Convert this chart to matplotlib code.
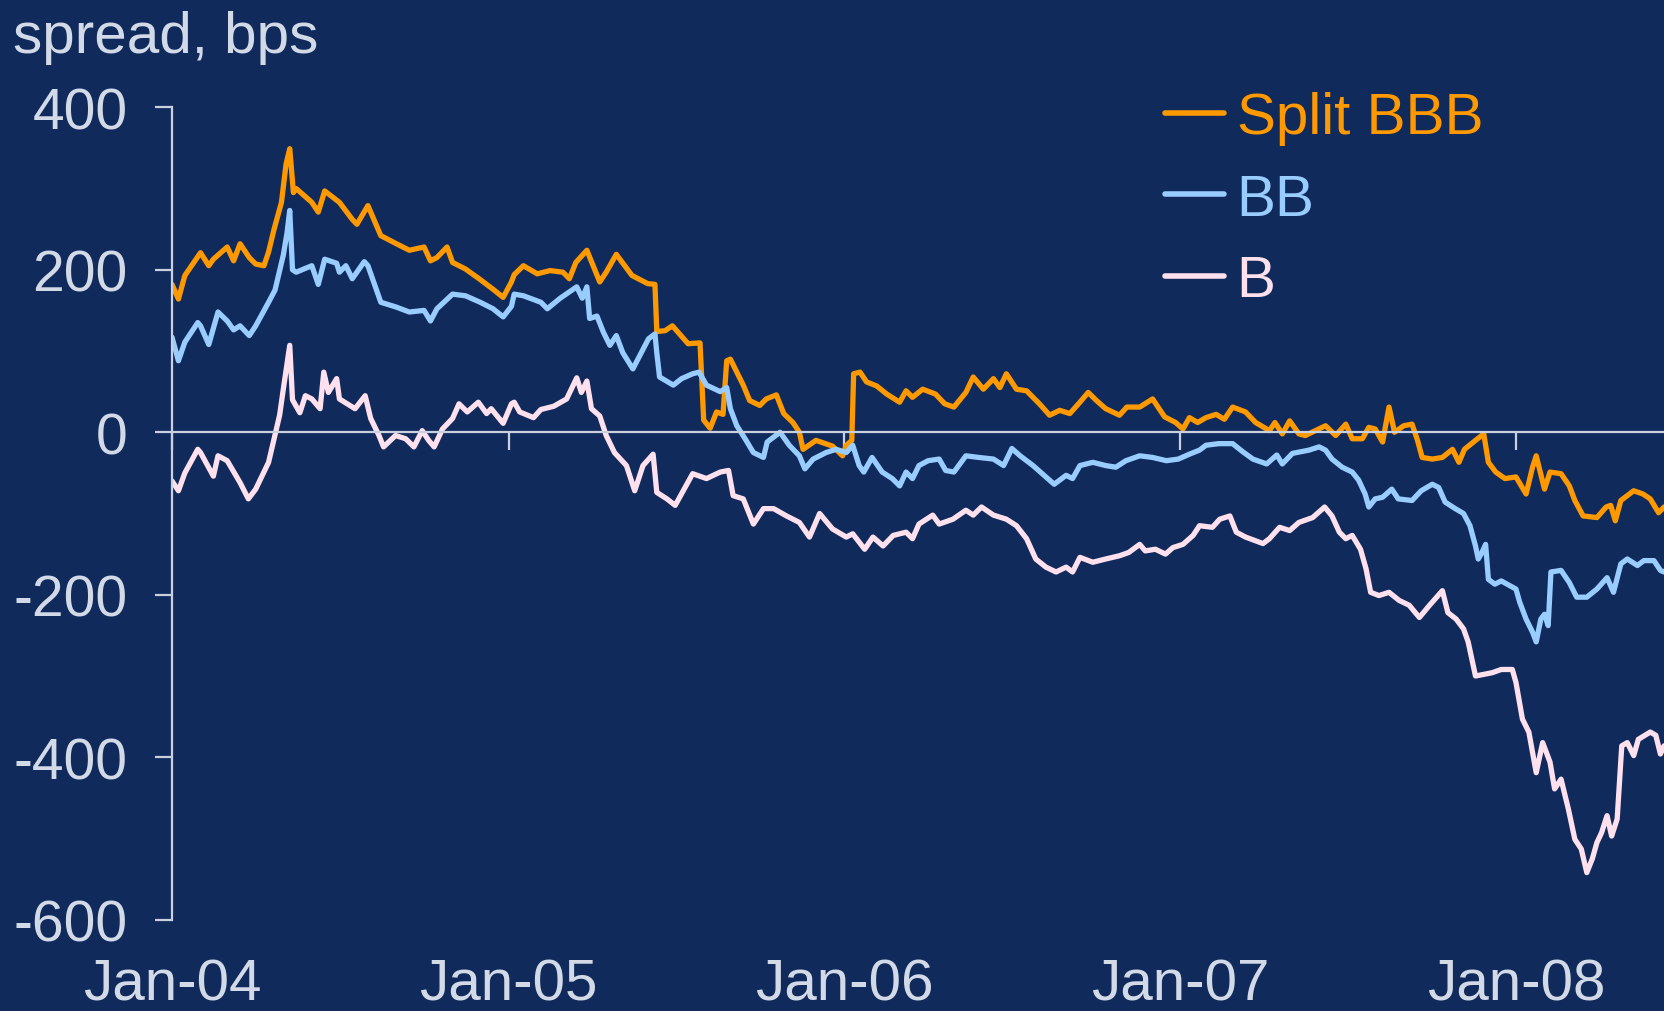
import matplotlib
matplotlib.use("Agg")
import matplotlib.pyplot as plt
import pandas as pd

# Split BBB spread vs. reference, bps
bbb_dates = [
    "2004-01-01", "2004-01-08", "2004-01-15", "2004-02-01", "2004-02-10", "2004-02-15", "2004-03-01", "2004-03-08",
    "2004-03-15", "2004-03-25", "2004-04-01", "2004-04-10", "2004-04-15", "2004-04-21", "2004-04-29", "2004-05-04",
    "2004-05-08", "2004-05-12", "2004-05-15", "2004-06-01", "2004-06-08", "2004-06-15", "2004-07-01", "2004-07-15",
    "2004-07-20", "2004-08-01", "2004-08-15", "2004-09-01", "2004-09-15", "2004-10-01", "2004-10-08", "2004-10-15",
    "2004-10-26", "2004-11-01", "2004-11-15", "2004-12-01", "2004-12-15", "2004-12-26", "2005-01-04", "2005-01-07",
    "2005-01-17", "2005-02-01", "2005-02-15", "2005-03-01", "2005-03-08", "2005-03-15", "2005-03-27", "2005-04-10",
    "2005-04-17", "2005-04-28", "2005-05-15", "2005-06-01", "2005-06-09", "2005-06-11", "2005-06-20", "2005-06-28",
    "2005-07-15", "2005-07-28", "2005-08-01", "2005-08-08", "2005-08-15", "2005-08-22", "2005-08-26", "2005-08-30",
    "2005-09-13", "2005-09-20", "2005-10-01", "2005-10-08", "2005-10-19", "2005-10-27", "2005-11-06", "2005-11-13",
    "2005-11-17", "2005-12-01", "2005-12-19", "2005-12-30", "2006-01-03", "2006-01-09", "2006-01-11", "2006-01-18",
    "2006-01-25", "2006-02-05", "2006-02-16", "2006-03-02", "2006-03-09", "2006-03-16", "2006-03-27", "2006-04-10",
    "2006-04-20", "2006-04-30", "2006-05-13", "2006-05-21", "2006-06-01", "2006-06-12", "2006-06-19", "2006-06-26",
    "2006-07-07", "2006-07-18", "2006-08-01", "2006-08-12", "2006-08-23", "2006-09-03", "2006-09-14", "2006-09-23",
    "2006-10-02", "2006-10-12", "2006-10-27", "2006-11-04", "2006-11-18", "2006-12-02", "2006-12-15", "2006-12-27",
    "2007-01-04", "2007-01-11", "2007-01-20", "2007-01-29", "2007-02-09", "2007-02-18", "2007-02-27", "2007-03-13",
    "2007-03-24", "2007-04-08", "2007-04-14", "2007-04-22", "2007-04-30", "2007-05-10", "2007-05-17", "2007-05-28",
    "2007-06-08", "2007-06-19", "2007-06-30", "2007-07-07", "2007-07-18", "2007-07-25", "2007-08-01", "2007-08-09",
    "2007-08-16", "2007-08-22", "2007-09-01", "2007-09-10", "2007-09-16", "2007-09-21", "2007-10-02", "2007-10-13",
    "2007-10-24", "2007-10-31", "2007-11-06", "2007-11-18", "2007-11-27", "2007-12-02", "2007-12-10", "2007-12-20",
    "2008-01-01", "2008-01-12", "2008-01-19", "2008-01-23", "2008-02-01", "2008-02-07", "2008-02-19", "2008-02-28",
    "2008-03-05", "2008-03-14", "2008-03-29", "2008-04-08", "2008-04-13", "2008-04-18", "2008-04-24", "2008-05-08",
    "2008-05-18", "2008-05-26", "2008-06-04", "2008-06-10",
]
bbb_vals = [
    182, 164, 193, 221, 205, 213, 228, 211,
    232, 215, 207, 205, 222, 250, 283, 330,
    349, 295, 300, 283, 271, 297, 283, 262,
    256, 279, 242, 232, 224, 228, 211, 215,
    228, 209, 201, 188, 176, 166, 185, 194,
    205, 195, 199, 197, 189, 209, 224, 185,
    197, 219, 193, 183, 182, 124, 125, 131,
    109, 110, 15, 5, 25, 22, 88, 90,
    58, 39, 33, 41, 46, 23, 12, 0,
    -21, -10, -17, -29, -16, -10, 72, 74,
    62, 57, 47, 37, 51, 43, 53, 47,
    35, 31, 49, 68, 53, 66, 55, 72,
    53, 51, 35, 21, 27, 23, 37, 49,
    39, 29, 21, 31, 31, 41, 19, 12,
    4, 18, 12, 18, 22, 16, 31, 25,
    12, 2, 12, -2, 14, -2, -4, 2,
    8, -4, 10, -8, -8, 6, 4, -12,
    31, 0, 8, 10, -10, -31, -33, -31,
    -21, -37, -21, -10, -2, -37, -49, -57,
    -55, -76, -43, -29, -70, -49, -51, -66,
    -84, -103, -105, -92, -90, -109, -84, -72,
    -76, -82, -99, -92,
]

# BB spread
bb_dates = [
    "2004-01-01", "2004-01-08", "2004-01-15", "2004-01-29", "2004-02-01", "2004-02-10", "2004-02-20", "2004-03-01",
    "2004-03-08", "2004-03-15", "2004-03-25", "2004-04-01", "2004-04-15", "2004-04-22", "2004-05-01", "2004-05-05",
    "2004-05-08", "2004-05-11", "2004-05-15", "2004-06-01", "2004-06-08", "2004-06-15", "2004-06-28", "2004-07-01",
    "2004-07-08", "2004-07-15", "2004-07-28", "2004-08-01", "2004-08-15", "2004-09-01", "2004-09-15", "2004-10-01",
    "2004-10-08", "2004-10-15", "2004-11-01", "2004-11-15", "2004-12-01", "2004-12-15", "2004-12-26", "2005-01-04",
    "2005-01-07", "2005-01-17", "2005-02-05", "2005-02-12", "2005-02-26", "2005-03-16", "2005-03-22", "2005-03-27",
    "2005-03-30", "2005-04-07", "2005-04-14", "2005-04-21", "2005-04-28", "2005-05-05", "2005-05-16", "2005-06-02",
    "2005-06-09", "2005-06-11", "2005-06-14", "2005-06-29", "2005-07-08", "2005-07-20", "2005-07-27", "2005-08-04",
    "2005-08-19", "2005-08-26", "2005-08-30", "2005-09-06", "2005-09-15", "2005-09-24", "2005-10-05", "2005-10-09",
    "2005-10-23", "2005-11-02", "2005-11-13", "2005-11-19", "2005-11-28", "2005-12-12", "2005-12-23", "2006-01-03",
    "2006-01-10", "2006-01-17", "2006-01-22", "2006-01-31", "2006-02-11", "2006-02-22", "2006-03-02", "2006-03-09",
    "2006-03-16", "2006-03-23", "2006-04-02", "2006-04-14", "2006-04-21", "2006-04-30", "2006-05-13", "2006-05-27",
    "2006-06-12", "2006-06-23", "2006-07-02", "2006-07-11", "2006-07-25", "2006-08-08", "2006-08-17", "2006-08-30",
    "2006-09-06", "2006-09-14", "2006-09-28", "2006-10-12", "2006-10-23", "2006-11-03", "2006-11-18", "2006-12-02",
    "2006-12-17", "2006-12-30", "2007-01-11", "2007-01-22", "2007-01-29", "2007-02-12", "2007-02-27", "2007-03-10",
    "2007-03-21", "2007-04-05", "2007-04-16", "2007-04-22", "2007-05-03", "2007-05-21", "2007-06-01", "2007-06-08",
    "2007-06-15", "2007-06-26", "2007-07-07", "2007-07-14", "2007-07-21", "2007-07-25", "2007-08-01", "2007-08-09",
    "2007-08-19", "2007-08-26", "2007-09-10", "2007-09-20", "2007-10-02", "2007-10-09", "2007-10-16", "2007-10-27",
    "2007-11-05", "2007-11-12", "2007-11-18", "2007-11-21", "2007-11-25", "2007-11-29", "2007-12-02", "2007-12-09",
    "2007-12-16", "2008-01-01", "2008-01-05", "2008-01-12", "2008-01-19", "2008-01-23", "2008-01-28", "2008-02-01",
    "2008-02-05", "2008-02-08", "2008-02-19", "2008-02-28", "2008-03-07", "2008-03-18", "2008-03-29", "2008-04-09",
    "2008-04-16", "2008-04-24", "2008-05-01", "2008-05-12", "2008-05-19", "2008-05-30", "2008-06-06", "2008-06-10",
]
bb_vals = [
    117, 88, 111, 135, 131, 108, 148, 137,
    126, 131, 119, 131, 160, 175, 218, 245,
    273, 200, 197, 205, 182, 213, 208, 197,
    205, 189, 210, 205, 160, 154, 148, 150,
    137, 152, 170, 168, 160, 152, 142, 155,
    170, 168, 160, 152, 165, 179, 165, 179,
    140, 143, 123, 107, 119, 98, 78, 115,
    121, 98, 68, 58, 66, 72, 74, 58,
    50, 55, 29, 8, -8, -25, -31, -12,
    0, -16, -29, -45, -33, -25, -21, -25,
    -16, -41, -49, -31, -49, -57, -66, -49,
    -57, -41, -35, -33, -47, -49, -29, -31,
    -33, -41, -20, -29, -41, -55, -64, -53,
    -57, -41, -37, -41, -43, -35, -29, -31,
    -35, -33, -27, -22, -16, -14, -14, -24,
    -33, -39, -28, -39, -26, -22, -18, -22,
    -33, -43, -49, -59, -76, -92, -82, -80,
    -70, -82, -84, -72, -64, -68, -86, -94,
    -100, -115, -140, -156, -148, -138, -181, -187,
    -183, -193, -209, -230, -246, -258, -230, -224,
    -238, -172, -170, -185, -203, -203, -193, -179,
    -197, -162, -156, -164, -158, -158, -170, -172,
]

# B spread
b_dates = [
    "2004-01-01", "2004-01-08", "2004-01-15", "2004-01-29", "2004-02-01", "2004-02-15", "2004-02-20", "2004-03-01",
    "2004-03-15", "2004-03-24", "2004-04-01", "2004-04-15", "2004-04-27", "2004-05-01", "2004-05-08", "2004-05-11",
    "2004-05-19", "2004-05-25", "2004-06-01", "2004-06-10", "2004-06-14", "2004-06-19", "2004-06-28", "2004-07-01",
    "2004-07-18", "2004-07-29", "2004-08-04", "2004-08-13", "2004-08-18", "2004-08-31", "2004-09-11", "2004-09-20",
    "2004-09-29", "2004-10-06", "2004-10-12", "2004-10-21", "2004-11-01", "2004-11-08", "2004-11-17", "2004-11-29",
    "2004-12-08", "2004-12-13", "2004-12-26", "2005-01-04", "2005-01-07", "2005-01-13", "2005-01-28", "2005-02-05",
    "2005-02-19", "2005-03-05", "2005-03-16", "2005-03-21", "2005-03-27", "2005-04-01", "2005-04-10", "2005-04-17",
    "2005-04-26", "2005-05-09", "2005-05-18", "2005-05-27", "2005-06-07", "2005-06-11", "2005-06-22", "2005-07-01",
    "2005-07-20", "2005-08-04", "2005-08-19", "2005-08-28", "2005-09-02", "2005-09-13", "2005-09-24", "2005-10-05",
    "2005-10-16", "2005-10-30", "2005-11-13", "2005-11-24", "2005-12-05", "2005-12-19", "2006-01-03", "2006-01-10",
    "2006-01-23", "2006-02-01", "2006-02-12", "2006-02-23", "2006-03-09", "2006-03-16", "2006-03-23", "2006-04-07",
    "2006-04-14", "2006-04-29", "2006-05-13", "2006-05-21", "2006-05-30", "2006-06-12", "2006-06-26", "2006-07-07",
    "2006-07-18", "2006-07-28", "2006-08-08", "2006-08-19", "2006-08-30", "2006-09-06", "2006-09-14", "2006-09-28",
    "2006-10-12", "2006-10-27", "2006-11-06", "2006-11-18", "2006-11-24", "2006-12-05", "2006-12-16", "2006-12-24",
    "2007-01-04", "2007-01-15", "2007-01-22", "2007-02-05", "2007-02-13", "2007-02-24", "2007-03-03", "2007-03-13",
    "2007-04-01", "2007-04-08", "2007-04-19", "2007-04-30", "2007-05-10", "2007-05-25", "2007-06-07", "2007-06-15",
    "2007-06-23", "2007-06-30", "2007-07-07", "2007-07-16", "2007-07-22", "2007-07-27", "2007-08-05", "2007-08-16",
    "2007-08-27", "2007-09-07", "2007-09-18", "2007-09-29", "2007-10-13", "2007-10-19", "2007-10-28", "2007-11-05",
    "2007-11-10", "2007-11-18", "2007-12-06", "2007-12-16", "2007-12-28", "2008-01-01", "2008-01-08", "2008-01-15",
    "2008-01-23", "2008-01-30", "2008-02-07", "2008-02-12", "2008-02-19", "2008-02-27", "2008-03-05", "2008-03-12",
    "2008-03-18", "2008-03-24", "2008-03-29", "2008-04-03", "2008-04-09", "2008-04-14", "2008-04-20", "2008-04-25",
    "2008-05-01", "2008-05-08", "2008-05-13", "2008-05-26", "2008-06-01", "2008-06-06", "2008-06-10",
]
b_vals = [
    -60, -72, -50, -21, -25, -54, -29, -35,
    -62, -82, -70, -37, 21, 53, 107, 40,
    24, 45, 41, 29, 74, 49, 66, 41,
    29, 45, 17, -4, -18, -4, -8, -18,
    2, -10, -18, 4, 17, 35, 25, 37,
    23, 29, 11, 35, 37, 25, 18, 28,
    32, 41, 67, 49, 63, 29, 20, -4,
    -25, -41, -72, -41, -27, -74, -82, -90,
    -51, -57, -49, -47, -78, -82, -113, -94,
    -94, -103, -111, -129, -100, -119, -129, -125,
    -144, -129, -140, -127, -123, -131, -113, -102,
    -113, -107, -96, -102, -92, -102, -107, -115,
    -131, -156, -166, -172, -166, -172, -154, -160,
    -156, -152, -148, -138, -146, -144, -150, -142,
    -138, -127, -115, -117, -107, -103, -123, -129,
    -137, -131, -117, -121, -111, -105, -92, -103,
    -123, -131, -127, -144, -168, -197, -201, -197,
    -207, -213, -228, -213, -195, -222, -230, -242,
    -258, -300, -296, -292, -292, -308, -353, -369,
    -419, -382, -406, -439, -427, -464, -501, -513,
    -542, -525, -505, -493, -472, -497, -476, -386,
    -382, -398, -378, -369, -373, -396, -386,
]

series_names = ["Split BBB", "BB", "B"]
series_colors = ["#ff9900", "#99ccff", "#ffe1ee"]
y_ticks = [-600, -400, -200, 0, 200, 400]
x_tick_dates = ["2004-01-01", "2005-01-01", "2006-01-01", "2007-01-01", "2008-01-01"]
x_tick_labels = ["Jan-04", "Jan-05", "Jan-06", "Jan-07", "Jan-08"]

bg = "#102a5c"
fg = "#d3dae7"
axis_col = "#c9d1e0"

plt.rcParams["font.family"] = ["Liberation Sans", "DejaVu Sans"]
plt.rcParams["axes.unicode_minus"] = False

fig = plt.figure(figsize=(16.65, 10.12), dpi=100, facecolor=bg)
ax = fig.add_axes([0.1033, 0.0902, 0.8967, 0.8028])
ax.set_facecolor(bg)

all_series = [(bbb_dates, bbb_vals), (bb_dates, bb_vals), (b_dates, b_vals)]
for (dates, vals), name, col in zip(all_series, series_names, series_colors):
    ax.plot(pd.to_datetime(dates), vals, color=col, lw=3.8, label=name,
            solid_joinstyle="round", solid_capstyle="round")

ax.set_ylim(-600, 400)
ax.set_xlim(pd.Timestamp("2004-01-01"), pd.Timestamp("2008-06-11"))

for s in ["top", "right"]:
    ax.spines[s].set_visible(False)
ax.spines["left"].set_color(axis_col)
ax.spines["left"].set_linewidth(1.6)
ax.spines["bottom"].set_position(("data", 0))
ax.spines["bottom"].set_color(axis_col)
ax.spines["bottom"].set_linewidth(1.6)

ax.set_yticks(y_ticks)
ax.set_yticklabels([str(v) for v in y_ticks])
ax.tick_params(axis="y", direction="out", length=12, width=1.6, color=axis_col,
               pad=20, labelsize=41, labelcolor=fg)

tick_pos = pd.to_datetime(x_tick_dates)
ax.set_xticks(tick_pos)
ax.tick_params(axis="x", direction="out", length=13, width=1.6, color=axis_col, labelbottom=False)
for d, lab in zip(tick_pos, x_tick_labels):
    ax.text(d, -0.098, lab, transform=ax.get_xaxis_transform(), ha="center", va="baseline",
            fontsize=42, color=fg, clip_on=False)

fig.text(0.008, 0.9476, "spread, bps", ha="left", va="baseline", fontsize=42, color=fg)

leg = ax.legend(loc="upper left", bbox_to_anchor=(0.7, 0.909), bbox_transform=fig.transFigure,
                frameon=False, fontsize=42, labelcolor="linecolor", handlelength=1.0,
                handletextpad=0.22, labelspacing=0.47, borderpad=0, borderaxespad=0)
for h in leg.get_lines():
    h.set_linewidth(4.0)

fig.savefig("out.png", dpi=100, facecolor=bg)
